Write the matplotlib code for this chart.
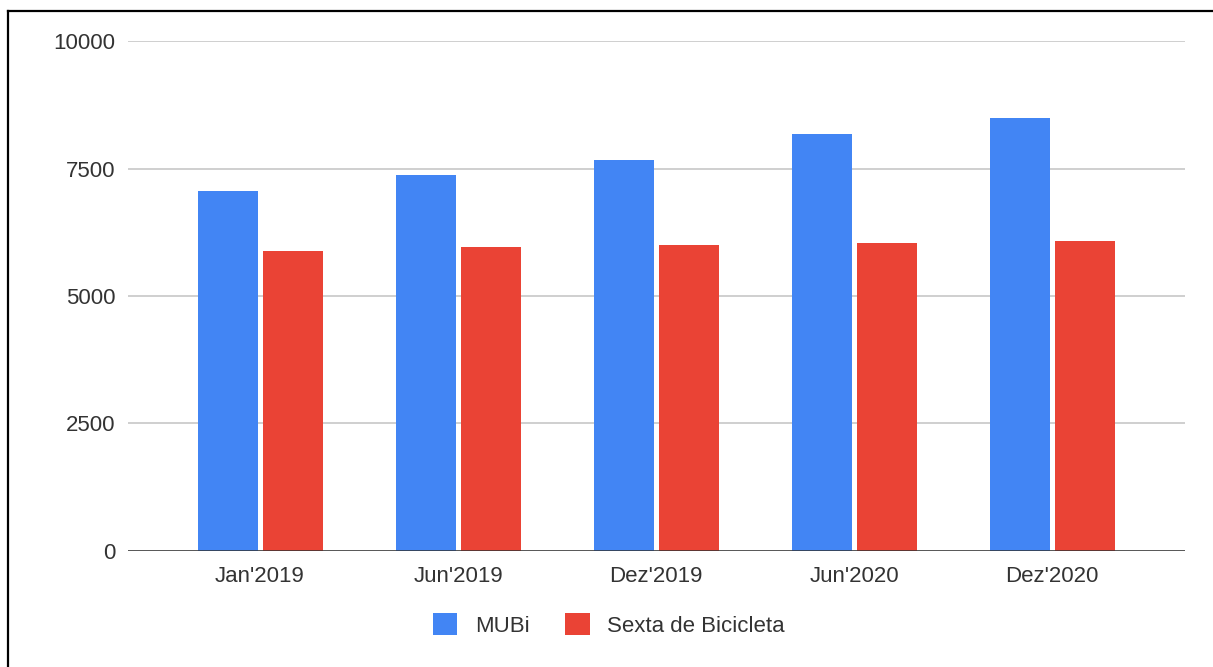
import numpy as np
import matplotlib
matplotlib.use("Agg")
import matplotlib.pyplot as plt
from matplotlib.lines import Line2D
from matplotlib.patches import Patch

# Data
categories = ["Jan'2019", "Jun'2019", "Dez'2019", "Jun'2020", "Dez'2020"]
mubi = [7060, 7370, 7670, 8180, 8490]
sexta = [5880, 5960, 6000, 6040, 6080]
series_names = ["MUBi", "Sexta de Bicicleta"]
yticks = [0, 2500, 5000, 7500, 10000]

blue = "#4285F4"
red = "#EA4335"
text_color = "#333333"

plt.rcParams["font.family"] = ["Liberation Sans", "DejaVu Sans"]

fig = plt.figure(figsize=(12.13, 6.67), dpi=100)
ax = fig.add_axes([0.1055, 0.174, 0.8715, 0.7645])

x = np.arange(len(categories))
w = 0.303
off = 0.164
ax.bar(x - off, mubi, width=w, color=blue, zorder=3)
ax.bar(x + off, sexta, width=w, color=red, zorder=3)

ax.set_xlim(-0.667, 4.672)
ax.set_ylim(0, 10000)
ax.set_yticks(yticks)
ax.set_yticklabels([str(v) for v in yticks])
ax.set_xticks(x)
ax.set_xticklabels(categories)

ax.grid(axis="y", color="#cccccc", linewidth=1.3, zorder=0)
ax.axhline(0, color="#333333", linewidth=1.8, zorder=4)
for s in ax.spines.values():
    s.set_visible(False)
ax.tick_params(axis="both", length=0, labelsize=16, colors=text_color)
ax.tick_params(axis="y", pad=9)
ax.tick_params(axis="x", pad=11)

handles = [Patch(facecolor=blue), Patch(facecolor=red)]
fig.legend(handles, series_names, loc="center", bbox_to_anchor=(0.502, 0.063),
           ncol=2, frameon=False, fontsize=16, handlelength=1.1, handleheight=1.1,
           columnspacing=1.6, handletextpad=0.8, labelcolor=text_color)

# outer frame (left and top edges)
fig.add_artist(Line2D([0.0068, 0.0068], [0.0, 0.983], color="black", linewidth=1.6,
                      transform=fig.transFigure))
fig.add_artist(Line2D([0.0068, 1.0], [0.983, 0.983], color="black", linewidth=1.6,
                      transform=fig.transFigure))

fig.savefig("out.png", dpi=100)
